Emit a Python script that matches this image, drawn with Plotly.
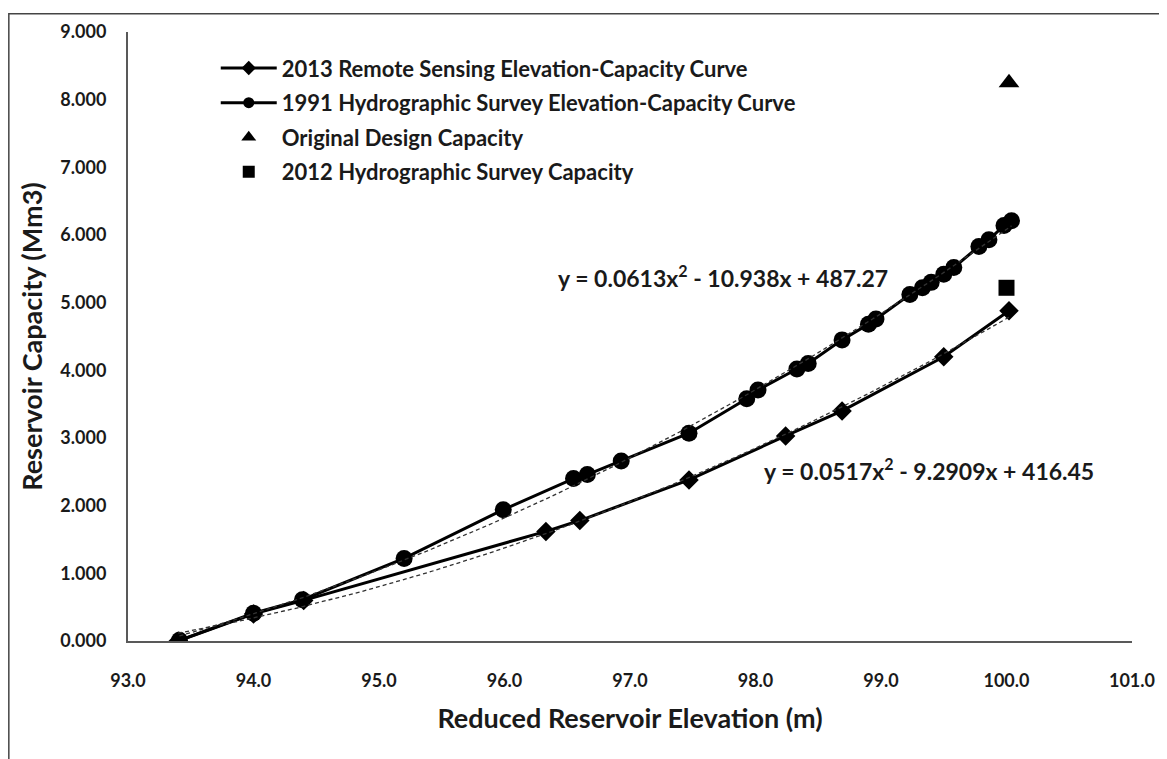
import numpy as np
import plotly.graph_objects as go

# ---- data ----
elev_2013 = [93.40, 94.00, 94.40, 96.33, 96.60, 97.47, 98.24, 98.69, 99.50, 100.02]
cap_2013 = [0.00, 0.40, 0.60, 1.62, 1.78, 2.38, 3.03, 3.40, 4.20, 4.88]

elev_1991 = [93.41, 94.00, 94.39, 95.20, 95.99, 96.55, 96.66, 96.93, 97.47, 97.93,
             98.02, 98.33, 98.42, 98.69, 98.90, 98.96, 99.23, 99.33, 99.40, 99.50,
             99.58, 99.78, 99.86, 99.98, 100.04]
cap_1991 = [0.01, 0.41, 0.61, 1.22, 1.94, 2.40, 2.46, 2.66, 3.07, 3.58,
            3.71, 4.02, 4.10, 4.45, 4.68, 4.76, 5.12, 5.22, 5.30, 5.42,
            5.52, 5.83, 5.93, 6.14, 6.21]

design_elev = [100.02]
design_cap = [8.25]
survey2012_elev = [100.00]
survey2012_cap = [5.22]

names = ["2013 Remote Sensing Elevation-Capacity Curve",
         "1991 Hydrographic Survey Elevation-Capacity Curve",
         "Original Design Capacity",
         "2012 Hydrographic Survey Capacity"]
eq_1991 = "y = 0.0613x<sup>2</sup> - 10.938x + 487.27"
eq_2013 = "y = 0.0517x<sup>2</sup> - 9.2909x + 416.45"
x_title = "Reduced Reservoir Elevation (m)"
y_title = "Reservoir Capacity (Mm3)"

x_ticks = [93, 94, 95, 96, 97, 98, 99, 100, 101]
y_ticks = [0, 1, 2, 3, 4, 5, 6, 7, 8, 9]

FONT = "Lato"
TXT = "#1a1a1a"

fig = go.Figure()

fig.add_trace(go.Scatter(x=elev_1991, y=cap_1991, mode="lines+markers", showlegend=False,
                         line=dict(color="black", width=3),
                         marker=dict(symbol="circle", size=17, color="black")))
fig.add_trace(go.Scatter(x=elev_2013, y=cap_2013, mode="lines+markers", showlegend=False,
                         line=dict(color="black", width=3),
                         marker=dict(symbol="diamond", size=15, color="black")))

# polynomial trendlines (order 2) fitted to the series
for xs, ys in [(elev_1991, cap_1991), (elev_2013, cap_2013)]:
    c = np.polyfit(xs, ys, 2)
    xx = np.linspace(min(xs), max(xs), 120)
    fig.add_trace(go.Scatter(x=xx, y=np.polyval(c, xx), mode="lines", showlegend=False,
                             line=dict(color="#333333", width=1.3, dash="4px,3px"),
                             hoverinfo="skip"))

fig.add_trace(go.Scatter(x=design_elev, y=design_cap, mode="markers", showlegend=False,
                         marker=dict(symbol="triangle-up", size=18, color="black")))
fig.add_trace(go.Scatter(x=survey2012_elev, y=survey2012_cap, mode="markers", showlegend=False,
                         marker=dict(symbol="square", size=16, color="black")))

# legend entries
fig.add_trace(go.Scatter(x=[None], y=[None], mode="lines+markers", name=names[0],
                         legendgroup="a", line=dict(color="black", width=3),
                         marker=dict(symbol="diamond", size=11, color="black")))
fig.add_trace(go.Scatter(x=[None], y=[None], mode="lines+markers", name=names[1],
                         legendgroup="b", line=dict(color="black", width=3),
                         marker=dict(symbol="circle", size=11, color="black")))
fig.add_trace(go.Scatter(x=[None], y=[None], mode="markers", name=names[2],
                         legendgroup="c", marker=dict(symbol="triangle-up", size=13, color="black")))
fig.add_trace(go.Scatter(x=[None], y=[None], mode="markers", name=names[3],
                         legendgroup="d", marker=dict(symbol="square", size=12, color="black")))

fig.add_annotation(x=97.74, y=5.38, xref="x", yref="y", text=eq_1991, showarrow=False,
                   font=dict(family=FONT, size=23, color=TXT, weight="bold"))
fig.add_annotation(x=99.38, y=2.54, xref="x", yref="y", text=eq_2013, showarrow=False,
                   font=dict(family=FONT, size=23, color=TXT, weight="bold"))

# outer frame
fig.add_shape(type="rect", xref="paper", yref="paper",
              x0=-0.1187, x1=1.06, y0=-0.30, y1=1.0301,
              line=dict(color="#444444", width=1.5), layer="below")

fig.update_layout(
    width=1159, height=751,
    margin=dict(l=120, r=32, t=19, b=118),
    paper_bgcolor="white", plot_bgcolor="white",
    font=dict(family=FONT, size=18, color=TXT, weight="bold"),
    showlegend=True,
    legend=dict(x=0.0874, y=0.975, xanchor="left", yanchor="top",
                bgcolor="rgba(0,0,0,0)", traceorder="grouped", tracegroupgap=3,
                font=dict(family=FONT, size=22, color=TXT, weight="bold"),
                itemwidth=56),
    xaxis=dict(range=[93, 101], tickvals=x_ticks, tickformat=".1f",
               showgrid=False, zeroline=False, showline=True, linecolor="#595959",
               linewidth=2, ticks="", ticklabelstandoff=22,
               title=dict(text=x_title, standoff=20,
                          font=dict(family=FONT, size=27, color=TXT, weight="bold"))),
    yaxis=dict(range=[0, 9], tickvals=y_ticks, tickformat=".3f",
               showgrid=False, zeroline=False, showline=True, linecolor="#595959",
               linewidth=2, ticks="", ticklabelstandoff=16,
               title=dict(text=y_title, standoff=10,
                          font=dict(family=FONT, size=27, color=TXT, weight="bold"))),
)

fig.write_html("out.html")
